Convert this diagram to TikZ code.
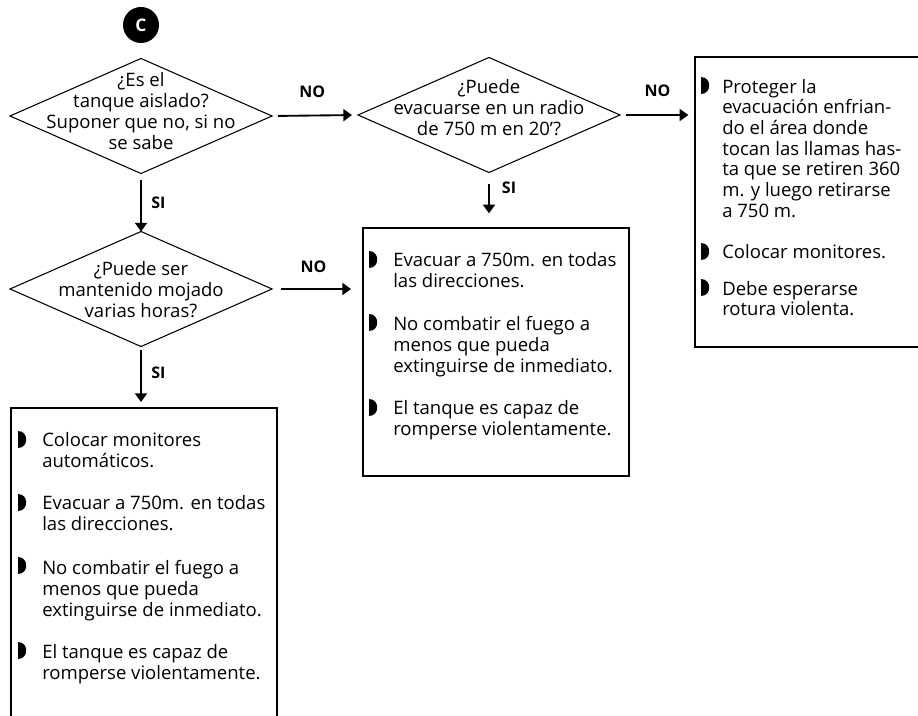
\documentclass[tikz,border=0pt]{standalone}
\usepackage{fontspec}
\setmainfont{Open Sans}
\usetikzlibrary{shapes.geometric,arrows.meta}

\begin{document}
\begin{tikzpicture}[x=0.75pt,y=-0.75pt,
  question/.style={diamond, draw, line width=0.8pt, minimum width=196.5pt,
    minimum height=86.25pt, inner sep=0pt, outer sep=0pt},
  qtext/.style={align=center, inner sep=0pt, font=\fontsize{13.9}{15.75}\selectfont},
  panel/.style={rectangle, draw=none, inner sep=0pt, outer sep=0pt},
  frame/.style={line width=0.9pt},
  flow/.style={line width=1.4pt, -{Triangle[length=6.5pt,width=9pt]}},
  tag/.style={inner sep=0pt, font=\bfseries\fontsize{12}{14}\selectfont},
  % anchored at the baseline of the last line
  item/.style={anchor=base west, align=left, inner sep=0pt,
    font=\fontsize{13.9}{15.75}\selectfont},
  itemR/.style={item, font=\fontsize{13.9}{15.5}\selectfont},
  % D-shaped bullet, flat side left, hung from its top point
  halfdot/.pic={\fill (0,0) .. controls (10.7,0) and (10.7,17) .. (0,17) -- cycle;},
]
\useasboundingbox (0,0) rectangle (918,716);

% start marker
\node[circle, fill=black, minimum size=27pt, inner sep=0pt, text=white,
  font=\bfseries\fontsize{13}{13}\selectfont] (start) at (141,25) {C};

% decisions
\node[question] (q1) at (141,116) {};
\node[qtext] (q1t) at (141,111.5) {¿Es el\\tanque aislado?\\Suponer que no, si no\\se sabe};

\node[question] (q2) at (489,115) {};
\node[qtext] (q2t) at (489,107.5) {¿Puede\\evacuarse en un radio\\de 750 m en 20’?};

\node[question] (q3) at (141,289) {};
\node[qtext] (q3t) at (141,290) {¿Puede ser\\mantenido mojado\\varias horas?};

% action panels
\node[panel, minimum width=167.25pt, minimum height=217.5pt] (boxR) at (806.5,202) {};
\node[panel, minimum width=199.5pt, minimum height=186pt] (boxM) at (496,352) {};
\node[panel, minimum width=199.5pt, minimum height=241.5pt] (boxL) at (144,569) {};

\draw[frame] (boxR.north east) -- (boxR.north west) -- (boxR.south west) -- (boxR.south east);
\draw[frame] (boxM.north west) rectangle (boxM.south east);
\draw[frame] (boxL.south west) -- (boxL.north west) -- (boxL.north east) -- (boxL.south east);

% right panel text
\pic at (701,77) {halfdot};
\node[itemR] (r1) at (722,217.2) {Proteger la\\evacuación enfrian-\\do el área donde\\tocan las llamas has-\\ta que se retiren 360\\m. y luego retirarse\\a 750 m.};
\pic at (701,243) {halfdot};
\node[itemR] (r2) at (722,259) {Colocar monitores.};
\pic at (701,279) {halfdot};
\node[itemR] (r3) at (722,315.7) {Debe esperarse\\rotura violenta.};

% middle panel text
\pic at (369,251) {halfdot};
\node[item] (m1) at (393,288) {Evacuar a 750m. en todas\\las direcciones.};
\pic at (369,314) {halfdot};
\node[item] (m2) at (393,373) {No combatir el fuego a\\menos que pueda\\extinguirse de inmediato.};
\pic at (369,399) {halfdot};
\node[item] (m3) at (393,436) {El tanque es capaz de\\romperse violentamente.};

% left panel text
\pic at (18,431) {halfdot};
\node[item] (l1) at (42,468) {Colocar monitores\\automáticos.};
\pic at (18,494) {halfdot};
\node[item] (l2) at (42,531) {Evacuar a 750m. en todas\\las direcciones.};
\pic at (18,557) {halfdot};
\node[item] (l3) at (42,616) {No combatir el fuego a\\menos que pueda\\extinguirse de inmediato.};
\pic at (18,642) {halfdot};
\node[item] (l4) at (42,679) {El tanque es capaz de\\romperse violentamente.};

% connectors
\draw[flow, shorten <=4.5pt, shorten >=4.5pt] (q1.east) -- (q2.west)
  node[tag, midway, yshift=18pt, xshift=-2pt] {NO};
\draw[flow, shorten <=4.5pt, shorten >=5pt] (q2.east) -- (q2.east -| boxR.west)
  node[tag, midway, yshift=18pt] {NO};
\draw[flow, shorten <=5pt] (q1.south) -- (q3.north)
  node[tag, midway, xshift=13pt] {SI};
\draw[flow, shorten <=8.5pt, shorten >=11pt] (q2.south) -- (q2.south |- boxM.north)
  node[tag, pos=0.27, xshift=15pt] {SI};
\draw[flow, shorten <=7pt, shorten >=9pt] (q3.east) -- (q3.east -| boxM.west)
  node[tag, midway, yshift=17pt, xshift=-3pt] {NO};
\draw[flow, shorten <=3pt, shorten >=4.5pt] (q3.south) -- (q3.south |- boxL.north)
  node[tag, pos=0.42, xshift=13pt] {SI};
\end{tikzpicture}
\end{document}
